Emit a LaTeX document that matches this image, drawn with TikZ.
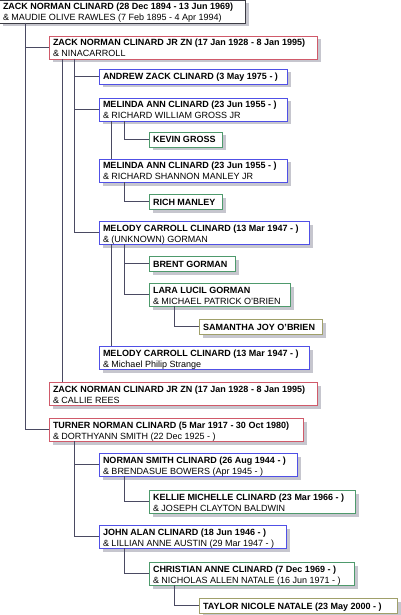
\documentclass[tikz,border=0pt]{standalone}
\usepackage{fontspec}
\setmainfont{Liberation Sans}
\usetikzlibrary{shadows}
\definecolor{cgray}{HTML}{3C3C44}
\definecolor{cred}{HTML}{D05A6A}
\definecolor{cblue}{HTML}{5050E6}
\definecolor{cgreen}{HTML}{4E9A6C}
\definecolor{colive}{HTML}{A0A06A}
\definecolor{shadowc}{HTML}{C6C6CE}
\definecolor{linec}{HTML}{4A4A62}
\tikzset{
  famb/.style={draw, line width=0.9bp, fill=white, inner sep=0pt, outer sep=0pt, anchor=north west,
    drop shadow={shadow xshift=3.5bp, shadow yshift=-3.5bp, fill=shadowc, opacity=1}},
  ftxt/.style={anchor=base west, inner sep=0pt, outer sep=0pt, font=\fontsize{9bp}{11bp}\selectfont},
  fbold/.style={ftxt, font=\fontsize{9bp}{11bp}\selectfont\bfseries},
  link/.style={draw=linec, line width=0.9bp}
}
\newcommand\famtwo[7]{%
  \node[famb, draw=#5, minimum width=#4bp, minimum height=23bp] (#1) at (#2,#3) {};
  \node[fbold] (#1-a) at ([xshift=4bp,yshift=-10bp]#1.north west) {#6};
  \node[ftxt] (#1-b) at ([xshift=4bp,yshift=-21bp]#1.north west) {#7};}
\newcommand\famone[6]{%
  \node[famb, draw=#5, minimum width=#4bp, minimum height=15bp] (#1) at (#2,#3) {};
  \node[fbold] (#1-a) at ([xshift=4bp,yshift=-11bp]#1.north west) {#6};}
\begin{document}
\begin{tikzpicture}[x=1bp,y=-1bp]
\useasboundingbox (0,0) rectangle (400,615);
\famtwo{n1}{-1}{0}{246}{cgray}{ZACK NORMAN CLINARD (28 Dec 1894 - 13 Jun 1969)}{\& MAUDIE OLIVE RAWLES (7 Feb 1895 - 4 Apr 1994)}
\famtwo{n2}{49}{36}{268}{cred}{ZACK NORMAN CLINARD JR ZN (17 Jan 1928 - 8 Jan 1995)}{\& NINACARROLL}
\famone{andrew}{99}{69}{188}{cblue}{ANDREW ZACK CLINARD (3 May 1975 - )}
\famtwo{melinda1}{99}{98}{188}{cblue}{MELINDA ANN CLINARD (23 Jun 1955 - )}{\& RICHARD WILLIAM GROSS JR}
\famone{kevin}{149}{132}{73}{cgreen}{KEVIN GROSS}
\famtwo{melinda2}{99}{159}{188}{cblue}{MELINDA ANN CLINARD (23 Jun 1955 - )}{\& RICHARD SHANNON MANLEY JR}
\famone{rich}{149}{194}{73}{cgreen}{RICH MANLEY}
\famtwo{melody1}{99}{221}{210}{cblue}{MELODY CARROLL CLINARD (13 Mar 1947 - )}{\& (UNKNOWN) GORMAN}
\famone{brent}{149}{256}{86}{cgreen}{BRENT GORMAN}
\famtwo{lara}{149}{283}{141}{cgreen}{LARA LUCIL GORMAN}{\& MICHAEL PATRICK O'BRIEN}
\famone{samantha}{199}{319}{123}{colive}{SAMANTHA JOY O'BRIEN}
\famtwo{melody2}{99}{346}{210}{cblue}{MELODY CARROLL CLINARD (13 Mar 1947 - )}{\& Michael Philip Strange}
\famtwo{zackc}{49}{382}{268}{cred}{ZACK NORMAN CLINARD JR ZN (17 Jan 1928 - 8 Jan 1995)}{\& CALLIE REES}
\famtwo{turner}{49}{418}{254}{cred}{TURNER NORMAN CLINARD (5 Mar 1917 - 30 Oct 1980)}{\& DORTHYANN SMITH (22 Dec 1925 - )}
\famtwo{norman}{99}{453}{198}{cblue}{NORMAN SMITH CLINARD (26 Aug 1944 - )}{\& BRENDASUE BOWERS (Apr 1945 - )}
\famtwo{kellie}{149}{490}{206}{cgreen}{KELLIE MICHELLE CLINARD (23 Mar 1966 - )}{\& JOSEPH CLAYTON BALDWIN}
\famtwo{john}{99}{525}{187}{cblue}{JOHN ALAN CLINARD (18 Jun 1946 - )}{\& LILLIAN ANNE AUSTIN (29 Mar 1947 - )}
\famtwo{christian}{149}{562}{205}{cgreen}{CHRISTIAN ANNE CLINARD (7 Dec 1969 - )}{\& NICHOLAS ALLEN NATALE (16 Jun 1971 - )}
\famone{taylor}{199}{598}{198}{colive}{TAYLOR NICOLE NATALE (23 May 2000 - )}
% connectors
\draw[link] ([xshift=26bp]n1.south west) |- (n2.west);
\draw[link] ([xshift=26bp]n1.south west) |- (turner.west);
\draw[link] ([xshift=25bp]n2.south west) |- (andrew.west);
\draw[link] ([xshift=25bp]n2.south west) |- (melinda1.west);
\draw[link] ([xshift=25bp]n2.south west) |- (melody1.west);
\draw[link] ([xshift=13bp]n2.south west) -- ([xshift=13bp]zackc.north west);
\draw[link] ([xshift=12bp]melinda1.south west) -- ([xshift=12bp]melinda2.north west);
\draw[link] ([xshift=25bp]melinda1.south west) |- (kevin.west);
\draw[link] ([xshift=25bp]melinda2.south west) |- (rich.west);
\draw[link] ([xshift=12bp]melody1.south west) -- ([xshift=12bp]melody2.north west);
\draw[link] ([xshift=25bp]melody1.south west) |- (brent.west);
\draw[link] ([xshift=25bp]melody1.south west) |- (lara.west);
\draw[link] ([xshift=25bp]lara.south west) |- (samantha.west);
\draw[link] ([xshift=25bp]turner.south west) |- (norman.west);
\draw[link] ([xshift=25bp]turner.south west) |- (john.west);
\draw[link] ([xshift=25bp]norman.south west) |- (kellie.west);
\draw[link] ([xshift=25bp]john.south west) |- (christian.west);
\draw[link] ([xshift=25bp]christian.south west) |- (taylor.west);
\end{tikzpicture}
\end{document}
